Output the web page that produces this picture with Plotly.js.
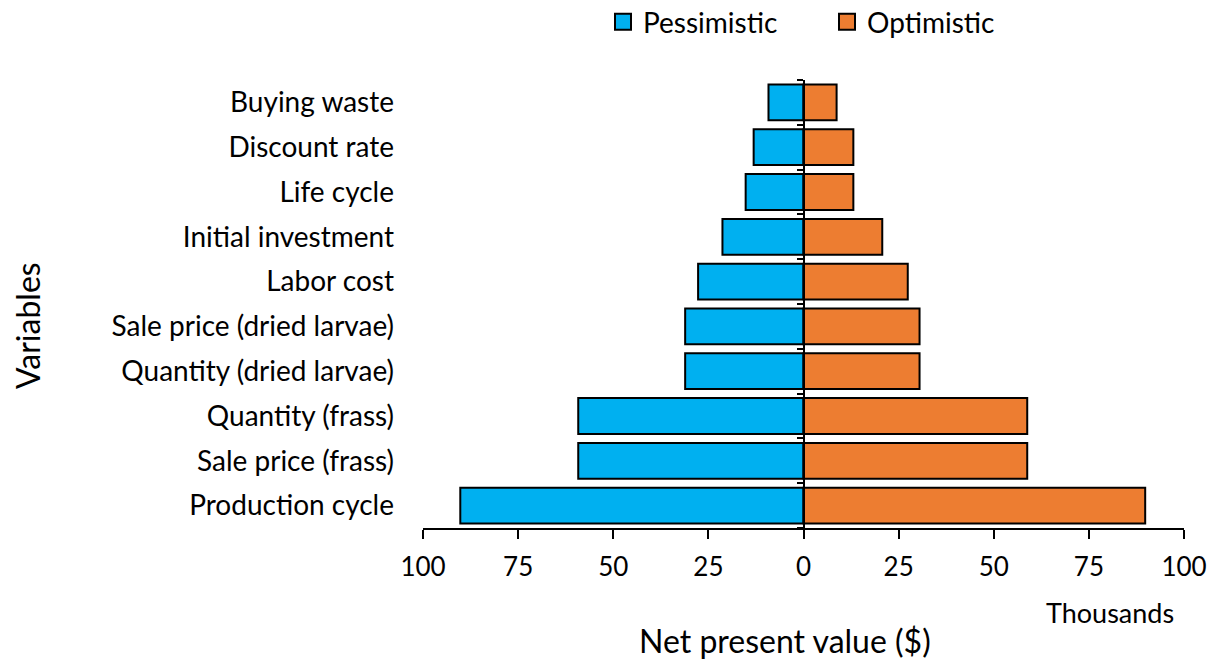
<!DOCTYPE html>
<html>
<head>
<meta charset="utf-8">
<script src="https://cdn.plot.ly/plotly-3.0.1.min.js"></script>
<style>html,body{margin:0;padding:0;background:#fff;}#chart{width:1214px;height:662px;}</style>
</head>
<body>
<div id="chart"></div>
<script>
const categories = ["Buying waste","Discount rate","Life cycle","Initial investment","Labor cost","Sale price (dried larvae)","Quantity (dried larvae)","Quantity (frass)","Sale price (frass)","Production cycle"];
const pessimistic = [-9.2, -13.1, -15.2, -21.3, -27.7, -31.1, -31.1, -59.2, -59.2, -90.2];
const optimistic = [8.7, 13.1, 13.1, 20.7, 27.4, 30.5, 30.5, 58.8, 58.8, 89.8];
const xTickVals = [-100, -75, -50, -25, 0, 25, 50, 75, 100];
const xTickText = ["100","75","50","25","0","25","50","75","100"];

const FONT = "Lato, 'Open Sans', sans-serif";
const BLUE = '#00B0F0', ORANGE = '#ED7D31';
const traces = [
  {type:'bar', orientation:'h', name:'Pessimistic', y:categories, x:pessimistic, showlegend:false,
   marker:{color:BLUE, line:{color:'#000', width:2}}, hoverinfo:'x+y'},
  {type:'bar', orientation:'h', name:'Optimistic', y:categories, x:optimistic, showlegend:false,
   marker:{color:ORANGE, line:{color:'#000', width:2}}, hoverinfo:'x+y'},
  {type:'scatter', name:'Pessimistic', x:[null], y:[null], mode:'markers', showlegend:true,
   marker:{symbol:'square', size:16, color:BLUE, line:{color:'#000', width:2}}, hoverinfo:'skip'},
  {type:'scatter', name:'Optimistic', x:[null], y:[null], mode:'markers', showlegend:true,
   marker:{symbol:'square', size:16, color:ORANGE, line:{color:'#000', width:2}}, hoverinfo:'skip'},
  {type:'scatter', x:[0], y:[0], yaxis:'y2', mode:'markers', marker:{opacity:0}, showlegend:false, hoverinfo:'skip'}
];
const layout = {
  width:1214, height:662,
  margin:{l:423, r:30, t:80, b:134},
  paper_bgcolor:'#fff', plot_bgcolor:'#fff',
  barmode:'overlay', bargap:0.2,
  font:{family:FONT, size:28, color:'#000'},
  xaxis:{range:[-100,100], tickvals:xTickVals, ticktext:xTickText, showgrid:false, zeroline:false,
    showline:true, linecolor:'#000', linewidth:2, ticks:'outside', ticklen:9, tickwidth:2, tickcolor:'#000',
    ticklabelstandoff:6, tickfont:{family:FONT, size:26}, fixedrange:true},
  yaxis:{type:'category', categoryarray:categories, categoryorder:'array', range:[9.5,-0.5],
    showgrid:false, zeroline:false, showline:false, ticks:'', ticklabelstandoff:28,
    tickfont:{family:FONT, size:28}},
  yaxis2:{overlaying:'y', anchor:'free', position:0.5, range:[9.5,-0.5],
    tickvals:[-0.5,0.5,1.5,2.5,3.5,4.5,5.5,6.5,7.5,8.5,9.5], showticklabels:false,
    showgrid:false, zeroline:false, showline:true, linecolor:'#000', linewidth:2,
    ticks:'outside', ticklen:6, tickwidth:2, tickcolor:'#000'},
  showlegend:true,
  legend:{orientation:'h', xref:'container', yref:'container', x:603/1214, xanchor:'left', y:1-22/662, yanchor:'middle',
    entrywidth:179, font:{family:FONT, size:28}, traceorder:'normal', bgcolor:'rgba(0,0,0,0)'},
  annotations:[
    {text:'Thousands', xref:'paper', yref:'paper', x:(1176-423)/761, xanchor:'right', y:-(612-528)/448, yanchor:'middle', showarrow:false, font:{family:FONT, size:27}},
    {text:'Net present value ($)', xref:'paper', yref:'paper', x:(785-423)/761, xanchor:'center', y:-(640-528)/448, yanchor:'middle', showarrow:false, font:{family:FONT, size:32}},
    {text:'Variables', xref:'paper', yref:'paper', x:-(423-27)/761, xanchor:'center', y:(528-326)/448, yanchor:'middle', textangle:-90, showarrow:false, font:{family:FONT, size:32}}
  ]
};
Plotly.newPlot('chart', traces, layout, {displayModeBar:false, staticPlot:true});
</script>
</body>
</html>
